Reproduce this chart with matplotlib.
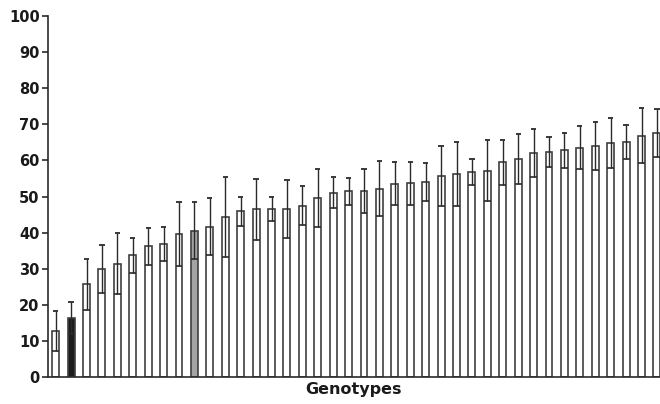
import matplotlib
matplotlib.use("Agg")
import matplotlib.pyplot as plt
import numpy as np

# médias e desvios (40 genótipos)
medias = [12.9, 16.4, 25.7, 30.0, 31.4, 33.8, 36.2, 36.9, 39.6, 40.5,
          41.7, 44.3, 45.9, 46.5, 46.6, 46.6, 47.5, 49.5, 51.0, 51.4,
          51.5, 52.1, 53.5, 53.6, 54.0, 55.7, 56.2, 56.8, 57.1, 59.4,
          60.4, 62.1, 62.3, 62.8, 63.5, 64.0, 64.8, 65.1, 66.8, 67.6]
desvios = [5.5, 4.5, 7.1, 6.6, 8.4, 4.8, 5.1, 4.7, 8.8, 7.9,
           7.8, 11.1, 4.1, 8.4, 3.4, 8.0, 5.4, 8.0, 4.3, 3.7,
           6.0, 7.6, 5.9, 5.9, 5.2, 8.3, 8.8, 3.5, 8.4, 6.3,
           6.9, 6.6, 4.1, 4.8, 6.0, 6.6, 6.9, 4.7, 7.6, 6.6]
destaque = {1: "#1c1c1c", 9: "#a3a3a3"}   # índice -> cor de preenchimento

x = np.arange(len(medias))
medias = np.array(medias)
desvios = np.array(desvios)
cores = [destaque.get(i, "white") for i in x]
largura = 0.45

fig = plt.figure(figsize=(6.6, 4.04), dpi=100)
ax = fig.add_axes([0.0727, 0.0656, 0.9273, 0.896])

ax.bar(x, medias, width=largura, color=cores, edgecolor="#404040", linewidth=1.2, zorder=2)
ax.errorbar(x, medias, yerr=desvios, fmt="none", ecolor="#2a2a2a",
            elinewidth=1.0, capsize=0, zorder=3)
# cap superior curto, cap inferior com a largura da barra
ax.hlines(medias + desvios, x - 0.17, x + 0.17, color="#2a2a2a", linewidth=1.3, zorder=3)
ax.hlines(medias - desvios, x - largura / 2, x + largura / 2, color="#2a2a2a",
          linewidth=1.2, zorder=3)

ax.set_xlim(-0.5, 39.2)
ax.set_ylim(0, 100)
ax.set_yticks(range(0, 101, 10))
ax.set_xticks([])
for lado in ["top", "right"]:
    ax.spines[lado].set_visible(False)
for lado in ["left", "bottom"]:
    ax.spines[lado].set_color("#2a2a2a")
    ax.spines[lado].set_linewidth(1.2)
ax.tick_params(axis="y", direction="out", length=4, width=1.2, color="#2a2a2a",
               labelsize=10.5, pad=2)
for lab in ax.get_yticklabels():
    lab.set_fontweight("bold")
    lab.set_color("#1a1a1a")
ax.set_xlabel("Genotypes", fontsize=11.5, fontweight="bold", color="#1a1a1a", labelpad=3)

plt.savefig("out.png", dpi=100)
